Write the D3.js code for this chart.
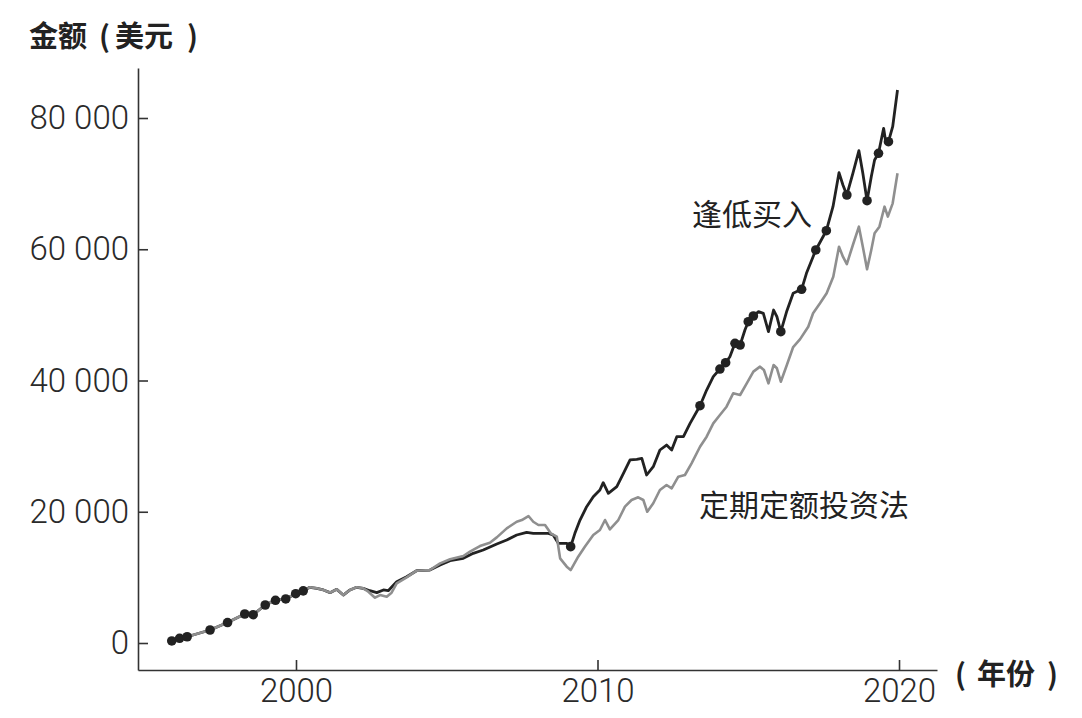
<!DOCTYPE html>
<html>
<head>
<meta charset="utf-8">
<script src="https://cdn.jsdelivr.net/npm/d3@7"></script>
<style>
  body { margin: 0; background: #fff; }
  svg { display: block; }
  .tick text { font-family: Roboto, "Liberation Sans", sans-serif; font-weight: 300; font-size: 33px; fill: #2a2a2a; }
  .cjk { font-family: "Noto Sans CJK SC", sans-serif; fill: #222; }
</style>
</head>
<body>
<div id="chart"></div>
<script>
// 定期定额投资法 (gray line): year, value in thousands of USD
var dcaYears = [1995.88, 1996.14, 1996.39, 1997.15, 1997.73, 1998.30, 1998.58, 1998.98, 1999.32, 1999.66,
  1999.99, 2000.24, 2000.46, 2000.69, 2000.91, 2001.13, 2001.35, 2001.57, 2001.79, 2002.01,
  2002.23, 2002.40, 2002.62, 2002.79, 2003.01, 2003.17, 2003.34, 2003.67, 2004.00, 2004.44,
  2004.78, 2005.11, 2005.55, 2005.77, 2006.10, 2006.43, 2006.66, 2006.99, 2007.32, 2007.49,
  2007.71, 2007.87, 2008.04, 2008.26, 2008.45, 2008.65, 2008.76, 2008.98, 2009.11, 2009.36,
  2009.58, 2009.86, 2010.08, 2010.25, 2010.41, 2010.69, 2010.91, 2011.13, 2011.35, 2011.52,
  2011.65, 2011.85, 2012.07, 2012.29, 2012.46, 2012.68, 2012.90, 2013.12, 2013.40, 2013.62,
  2013.84, 2014.06, 2014.28, 2014.50, 2014.73, 2014.95, 2015.17, 2015.39, 2015.52, 2015.67,
  2015.84, 2015.95, 2016.08, 2016.28, 2016.49, 2016.72, 2016.99, 2017.15, 2017.38, 2017.60,
  2017.82, 2018.01, 2018.14, 2018.27, 2018.47, 2018.67, 2018.80, 2018.94, 2019.08, 2019.19,
  2019.35, 2019.52, 2019.63, 2019.79, 2019.95];
var dcaValues = [0.31, 0.72, 0.95, 1.98, 3.12, 4.42, 4.31, 5.79, 6.51, 6.71,
  7.51, 7.95, 8.49, 8.33, 8.08, 7.67, 8.18, 7.31, 8.08, 8.49,
  8.33, 7.82, 6.90, 7.31, 7.06, 7.67, 9.09, 10.00, 11.02, 11.12,
  12.14, 12.75, 13.26, 13.92, 14.78, 15.29, 16.10, 17.47, 18.48, 18.74,
  19.35, 18.48, 17.98, 17.98, 16.71, 16.20, 12.90, 11.63, 11.12, 13.15,
  14.67, 16.46, 17.22, 18.74, 17.33, 18.74, 20.77, 21.79, 22.20, 21.79,
  20.00, 21.29, 23.31, 24.08, 23.57, 25.34, 25.60, 27.38, 29.91, 31.44,
  33.47, 34.74, 36.01, 38.05, 37.79, 39.57, 41.35, 42.11, 41.60, 39.57,
  42.36, 41.86, 39.82, 42.36, 45.10, 46.30, 48.20, 50.24, 51.76, 53.29,
  55.82, 60.39, 58.87, 57.75, 60.65, 63.44, 60.39, 56.94, 59.89, 62.43,
  63.44, 66.49, 64.97, 67.00, 71.57];

// 逢低买入 (black line)
var dipYears = [1995.88, 1996.14, 1996.39, 1997.15, 1997.73, 1998.30, 1998.58, 1998.98, 1999.32, 1999.66,
  1999.99, 2000.24, 2000.46, 2000.69, 2000.91, 2001.13, 2001.35, 2001.57, 2001.79, 2002.01,
  2002.23, 2002.45, 2002.68, 2002.90, 2003.06, 2003.34, 2003.67, 2004.00, 2004.44, 2004.78,
  2005.11, 2005.55, 2005.88, 2006.21, 2006.66, 2006.99, 2007.32, 2007.65, 2007.87, 2008.09,
  2008.37, 2008.53, 2008.70, 2008.98, 2009.11, 2009.25, 2009.42, 2009.64, 2009.86, 2010.08,
  2010.19, 2010.36, 2010.64, 2010.86, 2011.08, 2011.30, 2011.47, 2011.63, 2011.85, 2012.07,
  2012.29, 2012.46, 2012.63, 2012.85, 2013.07, 2013.40, 2013.62, 2013.84, 2014.06, 2014.25,
  2014.39, 2014.56, 2014.73, 2014.89, 2015.00, 2015.17, 2015.34, 2015.50, 2015.67, 2015.84,
  2015.95, 2016.08, 2016.28, 2016.49, 2016.77, 2016.93, 2017.15, 2017.24, 2017.48, 2017.59,
  2017.81, 2018.01, 2018.14, 2018.27, 2018.47, 2018.67, 2018.80, 2018.94, 2019.08, 2019.19,
  2019.32, 2019.49, 2019.55, 2019.65, 2019.79, 2019.95];
var dipValues = [0.31, 0.72, 0.95, 1.98, 3.12, 4.42, 4.31, 5.79, 6.51, 6.71,
  7.51, 7.95, 8.49, 8.33, 8.08, 7.67, 8.18, 7.31, 8.08, 8.49,
  8.33, 7.97, 7.67, 8.08, 7.97, 9.35, 10.10, 11.02, 11.12, 11.90,
  12.55, 12.90, 13.66, 14.17, 15.09, 15.70, 16.46, 16.87, 16.71, 16.71,
  16.71, 16.46, 15.19, 15.19, 14.68, 16.71, 18.74, 20.77, 22.29, 23.31,
  24.43, 22.81, 23.82, 25.86, 27.89, 27.99, 28.14, 25.60, 26.87, 29.41,
  30.17, 29.41, 31.44, 31.44, 33.47, 36.16, 38.55, 40.58, 41.75, 42.71,
  43.63, 45.67, 45.41, 47.70, 48.96, 49.83, 50.49, 50.24, 47.44, 50.74,
  49.72, 47.44, 50.60, 53.30, 53.90, 56.33, 58.87, 59.89, 61.91, 62.83,
  66.49, 71.67, 69.79, 68.27, 71.57, 75.02, 71.57, 67.40, 71.06, 73.60,
  74.62, 78.43, 76.65, 76.39, 78.67, 84.27];

// buy-the-dip purchase markers (years taken from the black series)
var dotYears = [1995.88, 1996.14, 1996.39, 1997.15, 1997.73, 1998.30, 1998.58, 1998.98, 1999.32, 1999.66,
  1999.99, 2000.24, 2009.11, 2013.40, 2014.06, 2014.25, 2014.56, 2014.73, 2015.00, 2015.17,
  2016.08, 2016.77, 2017.24, 2017.59, 2018.27, 2018.94, 2019.32, 2019.65];

var xTicks = [2000, 2010, 2020];
var yTicks = [0, 20000, 40000, 60000, 80000];

var width = 1082, height = 718;

var svg = d3.select("#chart").append("svg")
    .attr("width", width)
    .attr("height", height);

var x = d3.scaleLinear().domain([1994.76, 2021.26]).range([138, 937]);
var y = d3.scaleLinear().domain([-4114, 87620]).range([670, 68]);

var fmt = function (d) { return d3.format(",")(d).replace(/,/g, " "); };

// axes
var xAxis = svg.append("g")
    .attr("transform", "translate(0,670)")
    .call(d3.axisBottom(x).tickValues(xTicks).tickFormat(d3.format("d"))
        .tickSize(-10).tickSizeOuter(0).tickPadding(9));

var yAxis = svg.append("g")
    .attr("transform", "translate(138,0)")
    .call(d3.axisLeft(y).tickValues(yTicks).tickFormat(fmt)
        .tickSize(-10).tickSizeOuter(0).tickPadding(9));

svg.selectAll(".domain, .tick line")
    .attr("stroke", "#333")
    .attr("stroke-width", 1.6);

var toPts = function (xs, vs) {
  return xs.map(function (d, i) { return [d, vs[i] * 1000]; });
};

var line = d3.line()
    .x(function (d) { return x(d[0]); })
    .y(function (d) { return y(d[1]); });

// 逢低买入
svg.append("path")
    .attr("d", line(toPts(dipYears, dipValues)))
    .attr("fill", "none")
    .attr("stroke", "#222")
    .attr("stroke-width", 2.8)
    .attr("stroke-linejoin", "round");

// 定期定额投资法
svg.append("path")
    .attr("d", line(toPts(dcaYears, dcaValues)))
    .attr("fill", "none")
    .attr("stroke", "#8f8f8f")
    .attr("stroke-width", 2.6)
    .attr("stroke-linejoin", "round");

// purchase dots
svg.selectAll(".dot")
    .data(dotYears)
    .enter().append("circle")
    .attr("class", "dot")
    .attr("cx", function (d) { return x(d); })
    .attr("cy", function (d) { return y(dipValues[dipYears.indexOf(d)] * 1000); })
    .attr("r", 4.8)
    .attr("fill", "#222");

// titles, with the spaced brackets of the original
var yTitle = svg.append("text").attr("class", "cjk")
    .attr("y", 47).attr("font-size", 29).attr("font-weight", "bold");
yTitle.append("tspan").attr("x", 29).text("金额");
yTitle.append("tspan").attr("x", 99).text("(");
yTitle.append("tspan").attr("x", 115).text("美元");
yTitle.append("tspan").attr("x", 187).text(")");

var xTitle = svg.append("text").attr("class", "cjk")
    .attr("y", 685).attr("font-size", 29).attr("font-weight", "bold");
xTitle.append("tspan").attr("x", 955).text("(");
xTitle.append("tspan").attr("x", 977).text("年份");
xTitle.append("tspan").attr("x", 1047).text(")");

svg.append("text").attr("class", "cjk")
    .attr("x", 692).attr("y", 225)
    .attr("font-size", 30)
    .text("逢低买入");

svg.append("text").attr("class", "cjk")
    .attr("x", 699).attr("y", 516)
    .attr("font-size", 30)
    .text("定期定额投资法");
</script>
</body>
</html>
